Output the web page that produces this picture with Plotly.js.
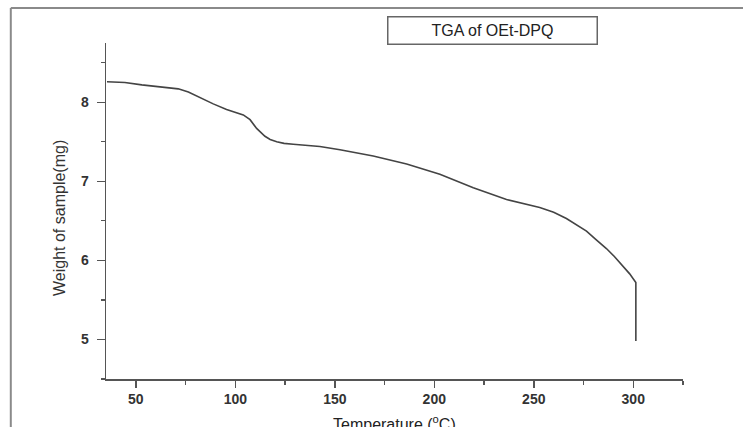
<!DOCTYPE html>
<html>
<head>
<meta charset="utf-8">
<script src="https://cdn.plot.ly/plotly-3.0.1.min.js"></script>
<style>
html,body{margin:0;padding:0;background:#fff;}
#chart{width:743px;height:427px;}
</style>
</head>
<body>
<div id="chart"></div>
<script>
var temperature = [35.5, 44.5, 53, 62, 68, 71.3, 76.4, 82.2, 88.9, 95.6, 100, 104, 107.4, 110.7, 114.9, 117.5, 120.8, 124.5, 129.1, 142.5, 152.6, 169.3, 186.1, 202.8, 219.6, 236.3, 253, 260, 266.4, 271, 276.5, 281, 286.5, 290.5, 294.9, 298.2, 301.3, 301.3];
var weight = [8.26, 8.25, 8.22, 8.20, 8.18, 8.17, 8.13, 8.06, 7.98, 7.91, 7.87, 7.84, 7.78, 7.67, 7.57, 7.53, 7.50, 7.48, 7.47, 7.44, 7.40, 7.32, 7.22, 7.09, 6.92, 6.77, 6.67, 6.61, 6.53, 6.46, 6.37, 6.27, 6.15, 6.05, 5.93, 5.83, 5.72, 4.98];

var chartTitle = 'TGA of OEt-DPQ';
var xTitle = 'Temperature (<sup>o</sup>C)';
var yTitle = 'Weight of sample(mg)';

var tickFont = {family: 'Liberation Sans, Arial, sans-serif', size: 14, color: '#333', weight: 'bold'};

var trace = {
  x: temperature,
  y: weight,
  mode: 'lines',
  type: 'scatter',
  line: {color: '#444', width: 1.6, shape: 'linear'},
  hoverinfo: 'none'
};

var layout = {
  width: 743,
  height: 427,
  margin: {l: 106, r: 60, t: 43, b: 48},
  paper_bgcolor: '#fff',
  plot_bgcolor: '#fff',
  showlegend: false,
  xaxis: {
    range: [35, 325],
    dtick: 50,
    tick0: 0,
    ticks: 'outside',
    ticklen: 7,
    tickwidth: 1.5,
    tickcolor: '#555',
    showline: true,
    linecolor: '#555',
    linewidth: 1.5,
    showgrid: false,
    zeroline: false,
    tickfont: tickFont,
    minor: {dtick: 25, tick0: 0, ticks: 'outside', ticklen: 4, tickwidth: 1.2, tickcolor: '#555', showgrid: false}
  },
  yaxis: {
    range: [4.5, 8.75],
    dtick: 1,
    tick0: 0,
    ticks: 'outside',
    ticklen: 8,
    tickwidth: 1.5,
    tickcolor: '#555',
    showline: true,
    linecolor: '#555',
    linewidth: 1.5,
    showgrid: false,
    zeroline: false,
    tickfont: tickFont,
    ticklabelstandoff: 5,
    minor: {dtick: 0.5, tick0: 0, ticks: 'outside', ticklen: 4, tickwidth: 1.2, tickcolor: '#555', showgrid: false}
  },
  annotations: [
    {
      text: chartTitle, xref: 'paper', yref: 'paper', x: 0.67, y: 1.037,
      xanchor: 'center', yanchor: 'middle', showarrow: false,
      font: {family: 'Liberation Sans, Arial, sans-serif', size: 16, color: '#222'},
      bordercolor: '#666', borderwidth: 1.5, borderpad: 3, width: 202, height: 20, bgcolor: '#fff'
    },
    {
      text: xTitle, xref: 'paper', yref: 'paper', x: 0.5, y: -0.132,
      xanchor: 'center', yanchor: 'middle', showarrow: false,
      font: {family: 'Liberation Sans, Arial, sans-serif', size: 16, color: '#222'}
    },
    {
      text: yTitle, xref: 'paper', yref: 'paper', x: -0.081, y: 0.48,
      xanchor: 'center', yanchor: 'middle', showarrow: false, textangle: -90,
      font: {family: 'Liberation Sans, Arial, sans-serif', size: 16, color: '#333'}
    }
  ],
  shapes: [
    {type: 'line', xref: 'paper', yref: 'paper', x0: -0.165, x1: -0.165, y0: -0.15, y1: 1.104, line: {color: '#8a8a8a', width: 2}},
    {type: 'line', xref: 'paper', yref: 'paper', x0: -0.165, x1: 1.11, y0: 1.104, y1: 1.104, line: {color: '#8a8a8a', width: 2}}
  ]
};

Plotly.newPlot('chart', [trace], layout, {displayModeBar: false, staticPlot: true});
</script>
</body>
</html>
